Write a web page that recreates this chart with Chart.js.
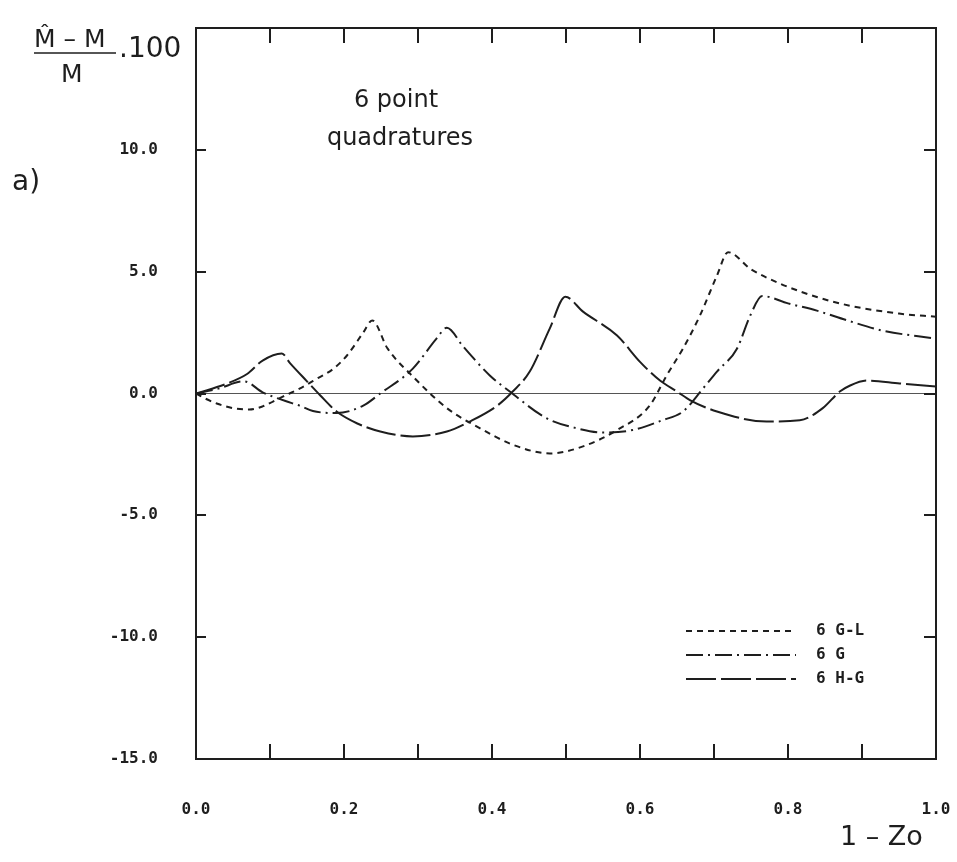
<!DOCTYPE html>
<html>
<head>
<meta charset="utf-8">
<script src="https://cdn.jsdelivr.net/npm/chart.js"></script>
<style>
  html, body { margin: 0; padding: 0; background: #fff; }
  #wrap { width: 957px; height: 862px; position: relative; }
</style>
</head>
<body>
<div id="wrap"><canvas id="quadChart"></canvas></div>
<script>
// relative error of 6 point quadratures vs 1 - Zo
const glX = [0.00, 0.012, 0.028, 0.05, 0.072, 0.09, 0.104, 0.118, 0.14, 0.163, 0.185, 0.204, 0.226, 0.238,
             0.259, 0.293, 0.339, 0.384, 0.428, 0.478, 0.523, 0.569, 0.613, 0.636, 0.658, 0.681, 0.704, 0.719,
             0.75, 0.79, 0.84, 0.884, 0.95, 1.0];
const glY = [0.00, -0.2, -0.41, -0.6, -0.66, -0.53, -0.33, -0.12, 0.2, 0.6, 1.0, 1.56, 2.5, 3.0,
             1.84, 0.70, -0.6, -1.43, -2.1, -2.46, -2.17, -1.5, -0.5, 0.74, 1.84, 3.2, 4.84, 5.8,
             5.1, 4.5, 3.95, 3.6, 3.28, 3.15];

const gX = [0.00, 0.03, 0.065, 0.09, 0.12, 0.14, 0.158, 0.19, 0.226, 0.249, 0.293, 0.325, 0.339,
            0.361, 0.397, 0.424, 0.474, 0.515, 0.55, 0.59, 0.63, 0.658, 0.685, 0.704, 0.731, 0.749, 0.765,
            0.80, 0.839, 0.88, 0.928, 1.0];
const gY = [0.00, 0.2, 0.5, 0.05, -0.3, -0.5, -0.72, -0.8, -0.5, 0.0, 1.02, 2.25, 2.7,
            1.93, 0.74, 0.08, -1.02, -1.43, -1.6, -1.5, -1.1, -0.74, 0.2, 0.9, 1.84, 3.2, 4.0,
            3.7, 3.4, 3.0, 2.58, 2.25];

const hgX = [0.00, 0.042, 0.069, 0.09, 0.116, 0.127, 0.15, 0.168, 0.19, 0.218, 0.249, 0.293, 0.339,
             0.37, 0.407, 0.428, 0.451, 0.478, 0.499, 0.523, 0.569, 0.60, 0.627, 0.65, 0.668, 0.704,
             0.771, 0.816, 0.847, 0.87, 0.884, 0.907, 0.951, 1.0];
const hgY = [0.00, 0.41, 0.8, 1.35, 1.64, 1.25, 0.5, -0.08, -0.74, -1.23, -1.56, -1.76, -1.56,
             -1.15, -0.5, 0.08, 0.9, 2.66, 3.97, 3.36, 2.38, 1.3, 0.53, 0.08, -0.28, -0.74,
             -1.15, -1.1, -0.6, 0.08, 0.33, 0.53, 0.41, 0.29];

const seriesLabels = ['6 G-L', '6 G', '6 H-G'];
const xTickStep = 0.1;
const yTickStep = 5;

const ink = '#1e1e1e';
const tickFont = { family: "'DejaVu Sans Mono', monospace", size: 16, weight: 'bold' };

function pts(xs, ys) {
    return xs.map((x, i) => ({ x: x, y: ys[i] }));
}

// frame, inward ticks, legend and free text
const framePlugin = {
    id: 'frame',
    afterDraw(chart) {
        const ctx = chart.ctx;
        const a = chart.chartArea;
        const xs = chart.scales.x;
        const ys = chart.scales.y;
        ctx.save();
        ctx.strokeStyle = ink;
        ctx.lineWidth = 2;
        ctx.strokeRect(a.left, a.top, a.right - a.left, a.bottom - a.top);

        ctx.beginPath();
        xs.ticks.forEach(t => {
            const px = Math.round(xs.getPixelForValue(t.value));
            ctx.moveTo(px, a.bottom); ctx.lineTo(px, a.bottom - 15);
            ctx.moveTo(px, a.top); ctx.lineTo(px, a.top + 15);
        });
        ys.ticks.forEach(t => {
            const py = Math.round(ys.getPixelForValue(t.value));
            ctx.moveTo(a.left, py); ctx.lineTo(a.left + 10, py);
            ctx.moveTo(a.right, py); ctx.lineTo(a.right - 12, py);
        });
        ctx.stroke();

        // legend
        ctx.font = "bold 16px 'DejaVu Sans Mono', monospace";
        ctx.textBaseline = 'middle';
        ctx.fillStyle = ink;
        chart.data.datasets.forEach((ds, i) => {
            const y = 631 + i * 24;
            ctx.beginPath();
            ctx.setLineDash(ds.borderDash);
            ctx.lineWidth = 2;
            ctx.moveTo(686, y); ctx.lineTo(796, y);
            ctx.stroke();
            ctx.setLineDash([]);
            ctx.fillText(ds.label, 816, y);
        });

        // annotation
        ctx.font = "24px 'DejaVu Sans', sans-serif";
        ctx.textAlign = 'center';
        ctx.fillText('6 point', 396, 101);
        ctx.fillText('quadratures', 400, 139);

        // y title: (M^ - M) / M . 100
        ctx.font = "25px 'DejaVu Sans', sans-serif";
        ctx.textAlign = 'left';
        ctx.fillText('M\u0302 \u2013 M', 34, 40);
        ctx.fillText('M', 61, 75);
        ctx.font = "28px 'DejaVu Sans', sans-serif";
        ctx.fillText('.100', 119, 50);
        ctx.beginPath();
        ctx.lineWidth = 1.5;
        ctx.moveTo(34, 53); ctx.lineTo(116, 53);
        ctx.stroke();

        ctx.font = "28px 'DejaVu Sans', sans-serif";
        ctx.fillText('a)', 12, 183);

        ctx.font = "27px 'DejaVu Sans', sans-serif";
        ctx.fillText('1 \u2013 Zo', 840, 838);
        ctx.restore();
    }
};

const ctx = document.getElementById('quadChart').getContext('2d');
new Chart(ctx, {
    type: 'line',
    data: {
        datasets: [
            {
                label: seriesLabels[0],
                data: pts(glX, glY),
                borderColor: ink,
                borderWidth: 2,
                borderDash: [6, 5],
                pointRadius: 0,
                cubicInterpolationMode: 'monotone'
            },
            {
                label: seriesLabels[1],
                data: pts(gX, gY),
                borderColor: ink,
                borderWidth: 2,
                borderDash: [17, 5, 2, 5],
                pointRadius: 0,
                cubicInterpolationMode: 'monotone'
            },
            {
                label: seriesLabels[2],
                data: pts(hgX, hgY),
                borderColor: ink,
                borderWidth: 2,
                borderDash: [30, 5],
                pointRadius: 0,
                cubicInterpolationMode: 'monotone'
            }
        ]
    },
    options: {
        responsive: true,
        maintainAspectRatio: false,
        animation: false,
        layout: { padding: { left: 0, top: 28, right: 21, bottom: 0 } },
        plugins: {
            legend: { display: false },
            tooltip: { enabled: false }
        },
        scales: {
            x: {
                type: 'linear',
                min: 0,
                max: 1,
                afterFit(scale) {
                    scale.height = 103;
                    scale.paddingLeft = 0;
                    scale.paddingRight = 0;
                },
                grid: { display: false, drawTicks: false },
                border: { display: false },
                ticks: {
                    stepSize: xTickStep,
                    autoSkip: false,
                    maxRotation: 0,
                    padding: 41,
                    color: ink,
                    font: tickFont,
                    callback: v => (Math.round(v * 10) % 2 === 0 ? v.toFixed(1) : '')
                }
            },
            y: {
                min: -15,
                max: 15,
                afterFit(scale) {
                    scale.width = 196;
                    scale.paddingTop = 0;
                    scale.paddingBottom = 0;
                },
                grid: {
                    drawTicks: false,
                    lineWidth: 1,
                    color: c => (c.tick && c.tick.value === 0 ? '#555' : 'transparent')
                },
                border: { display: false },
                ticks: {
                    stepSize: yTickStep,
                    padding: 38,
                    color: ink,
                    font: tickFont,
                    callback: v => (v === 15 ? '' : v.toFixed(1))
                }
            }
        }
    },
    plugins: [framePlugin]
});
</script>
</body>
</html>
